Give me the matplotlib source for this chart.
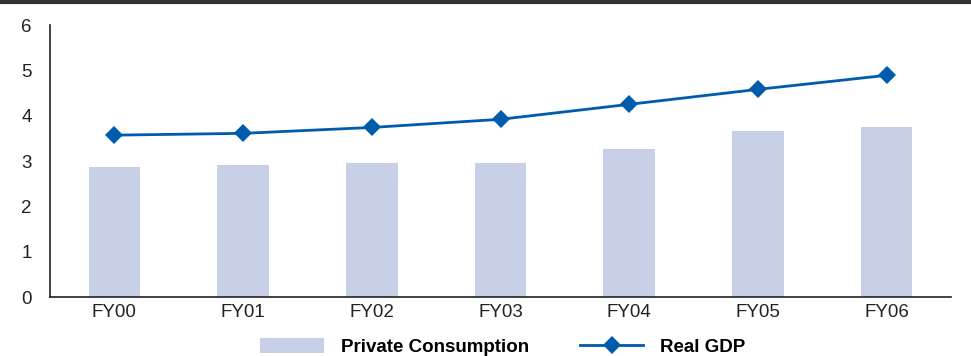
import matplotlib
matplotlib.use("Agg")
import matplotlib.pyplot as plt
from matplotlib.lines import Line2D
from matplotlib.patches import Patch

years = ["FY00", "FY01", "FY02", "FY03", "FY04", "FY05", "FY06"]
private_consumption = [2.86, 2.91, 2.95, 2.95, 3.26, 3.66, 3.74]
real_gdp = [3.57, 3.61, 3.74, 3.92, 4.25, 4.58, 4.89]
y_ticks = [0, 1, 2, 3, 4, 5, 6]

bar_color = "#C8D0E8"
line_color = "#005BAC"

plt.rcParams["font.family"] = ["Liberation Sans", "DejaVu Sans"]

fig = plt.figure(figsize=(9.71, 3.56), dpi=100)
ax = fig.add_axes([50 / 971, 59 / 356, 901 / 971, 272 / 356])

x = range(len(years))
ax.bar(x, private_consumption, width=0.4, color=bar_color, zorder=2)
ax.plot(x, real_gdp, color=line_color, lw=2, marker="D", ms=9,
        markeredgewidth=0, zorder=3)

ax.set_xlim(-0.5, len(years) - 0.5)
ax.set_ylim(0, 6)
ax.set_xticks(list(x))
ax.set_xticklabels(years)
ax.set_yticks(y_ticks)
ax.tick_params(axis="both", length=0, labelsize=13.5, colors="#222222")
ax.tick_params(axis="x", pad=5)
ax.tick_params(axis="y", pad=13)
for side in ("top", "right"):
    ax.spines[side].set_visible(False)
for side in ("left", "bottom"):
    ax.spines[side].set_color("#222222")
    ax.spines[side].set_linewidth(1.2)

# heavy rule across the top of the figure
fig.add_artist(Line2D([0, 1], [1 - 1.5 / 356, 1 - 1.5 / 356],
                      transform=fig.transFigure, color="#333333", lw=3))

handles = [
    Patch(facecolor=bar_color, edgecolor="none"),
    Line2D([], [], color=line_color, lw=2, marker="D", ms=9, markeredgewidth=0),
]
fig.legend(handles, ["Private Consumption", "Real GDP"], loc="lower center",
           bbox_to_anchor=(0.518, -0.047), ncol=2, frameon=False,
           prop={"weight": "bold", "size": 13.5}, handlelength=3.4,
           handleheight=0.8, columnspacing=2.7, handletextpad=0.9)

fig.savefig("out.png", dpi=100)
